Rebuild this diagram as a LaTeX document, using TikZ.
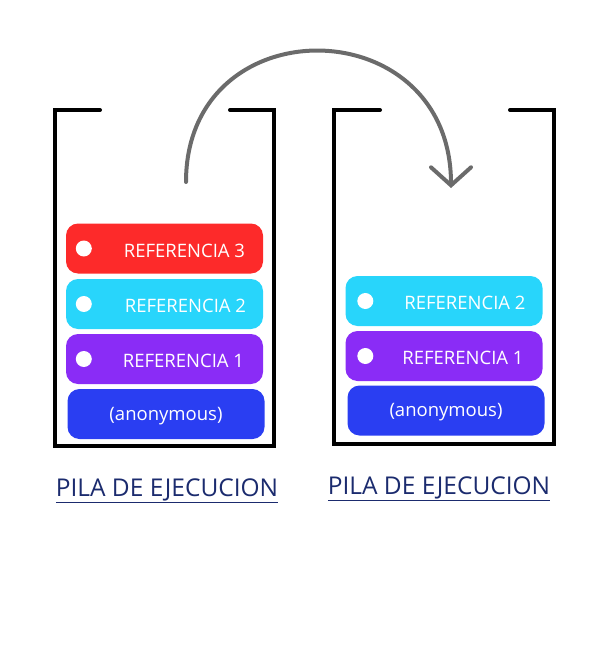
\documentclass[tikz,border=0pt]{standalone}
\usepackage{fontspec}
\setmainfont{Open Sans}
\usetikzlibrary{arrows.meta}
\definecolor{refred}{HTML}{FD2A2A}
\definecolor{refcyan}{HTML}{28D5FB}
\definecolor{refpurple}{HTML}{8A2CF6}
\definecolor{anonblue}{HTML}{2A3EF2}
\definecolor{pilanavy}{HTML}{1B2B6E}
\definecolor{arrowgray}{HTML}{6B6B6B}
\begin{document}
\begin{tikzpicture}[x=1pt,y=-1pt,
  pila/.style={line width=4pt,black,line cap=round,line join=miter},
  bar/.style={rounded corners=12pt,minimum width=197pt,minimum height=50pt,inner sep=0pt},
  bartext/.style={white,font=\fontsize{18.5}{20}\selectfont,yshift=-2pt},
  dot/.style={circle,fill=white,minimum size=16pt,inner sep=0pt},
  title/.style={pilanavy,font=\fontsize{24.5}{28}\selectfont},
  moveArrow/.style={line width=4pt,arrowgray,line cap=round,-{Straight Barb[length=18pt,width=40pt,line cap=round]}}]
\useasboundingbox (0,0) rectangle (610,650);
% stack before
\begin{scope}
\draw[pila] (100,110) -- (55,110) -- (55,446) -- (274,446) -- (274,110) -- (230,110);
\node[bar,fill=refred] (a3) at (164.5,248.5) {};
\node[bar,fill=refcyan] (a2) at (164.5,304) {};
\node[bar,fill=refpurple] (a1) at (164.5,359) {};
\node[bar,fill=anonblue] (a0) at (166,414) {};
\node[dot] at ([xshift=18]a3.west) {};
\node[dot] at ([xshift=18]a2.west) {};
\node[dot] at ([xshift=18]a1.west) {};
\node[bartext] at ([xshift=20]a3.center) {REFERENCIA 3};
\node[bartext] at ([xshift=21]a2.center) {REFERENCIA 2};
\node[bartext] at ([xshift=19]a1.center) {REFERENCIA 1};
\node[bartext] at (a0.center) {(anonymous)};
\node[title] (t1) at (167,491) {\underline{PILA DE EJECUCION}};
\end{scope}
% stack after
\begin{scope}
\draw[pila] (380,110) -- (334,110) -- (334,444) -- (554,444) -- (554,110) -- (510,110);
\node[bar,fill=refcyan] (b2) at (444,301) {};
\node[bar,fill=refpurple] (b1) at (444,356) {};
\node[bar,fill=anonblue] (b0) at (446,410.5) {};
\node[dot] at ([xshift=20]b2.west) {};
\node[dot] at ([xshift=20]b1.west) {};
\node[bartext] at ([xshift=21]b2.center) {REFERENCIA 2};
\node[bartext] at ([xshift=19]b1.center) {REFERENCIA 1};
\node[bartext] at (b0.center) {(anonymous)};
\node[title] (t2) at (439,489) {\underline{PILA DE EJECUCION}};
\end{scope}
% pop arrow
\coordinate (pop) at (186,182);
\coordinate (push) at (451,188);
\draw[moveArrow] (pop) .. controls +(0,-177) and +(0,-180) .. (push);
\end{tikzpicture}
\end{document}
